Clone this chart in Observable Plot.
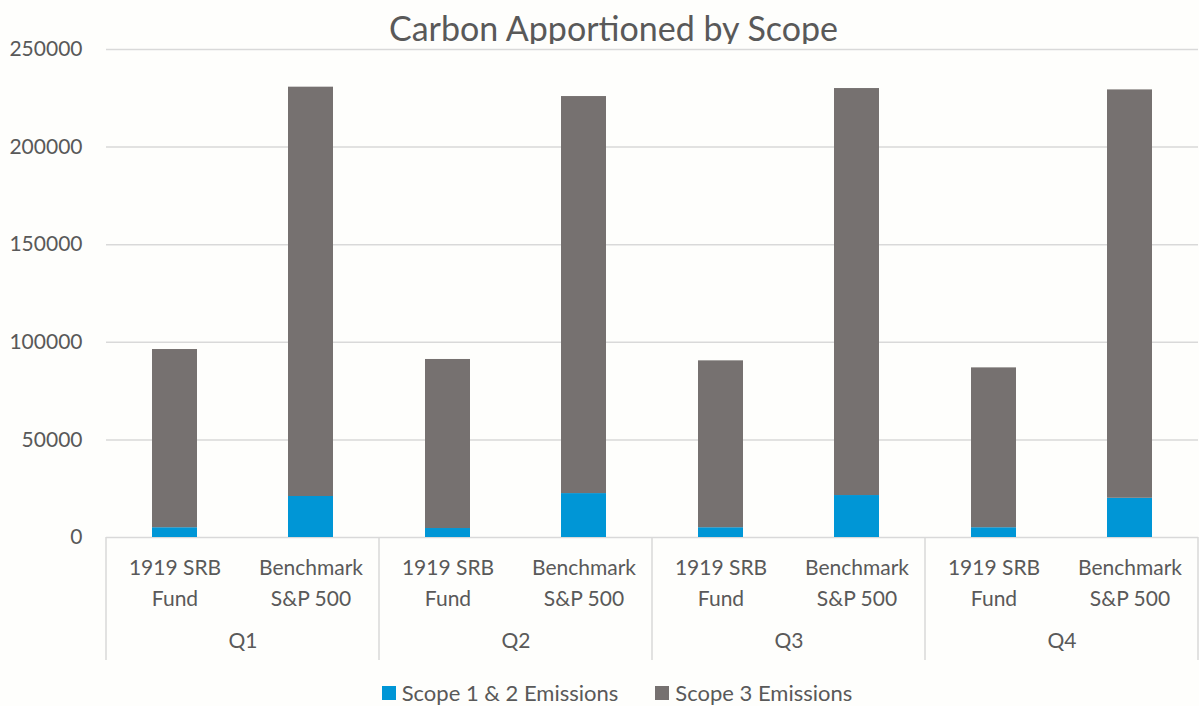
<!DOCTYPE html>
<html>
<head>
<meta charset="utf-8">
<script src="https://cdn.jsdelivr.net/npm/d3@7"></script>
<script src="https://cdn.jsdelivr.net/npm/@observablehq/plot@0.6"></script>
<style>
  html, body { margin: 0; padding: 0; background: #fefefc; }
  body { width: 1199px; height: 706px; position: relative; overflow: hidden; font-family: Lato, "Open Sans", sans-serif; color: #595959; }
  #title { position: absolute; left: 28px; top: 6px; width: 1171px; text-align: center; font-size: 34px; line-height: 44px; }
  #chart { position: absolute; left: 0; top: 44px; }
  #legend { position: absolute; left: 0; top: 680px; width: 1199px; display: flex; justify-content: center; gap: 37px; font-size: 22px; line-height: 26px; padding-left: 35px; box-sizing: border-box; }
  .item { display: flex; align-items: center; gap: 6px; }
  .sw { width: 14px; height: 14px; display: inline-block; }
</style>
</head>
<body>
<div id="title">Carbon Apportioned by Scope</div>
<div id="chart"></div>
<div id="legend"></div>
<script>
const quarters = ["Q1", "Q2", "Q3", "Q4"];
const funds = ["1919 SRB Fund", "Benchmark S&P 500"];
const fundLabels = ["1919 SRB\nFund", "Benchmark\nS&P 500"];
const scopes = ["Scope 1 & 2 Emissions", "Scope 3 Emissions"];
const colors = ["#0096d6", "#767170"];
// values per quarter
const fundScope12 = [5000, 4600, 5000, 5000];
const fundScope3 = [91300, 86600, 85500, 81900];
const benchScope12 = [21000, 22500, 21500, 20100];
const benchScope3 = [209700, 203400, 208500, 209200];
const yTicks = [0, 50000, 100000, 150000, 200000, 250000];

const rows = [];
quarters.forEach((q, i) => {
  rows.push({quarter: q, fund: funds[0], scope: scopes[0], value: fundScope12[i]});
  rows.push({quarter: q, fund: funds[0], scope: scopes[1], value: fundScope3[i]});
  rows.push({quarter: q, fund: funds[1], scope: scopes[0], value: benchScope12[i]});
  rows.push({quarter: q, fund: funds[1], scope: scopes[1], value: benchScope3[i]});
});

const W = 1199, H = 625, mL = 104, mR = 0, mT = 5, mB = 132;

const chart = Plot.plot({
  width: W, height: H,
  marginLeft: mL, marginRight: mR, marginTop: mT, marginBottom: mB,
  style: {fontFamily: "Lato, 'Open Sans', sans-serif", fontSize: "21px", color: "#595959", background: "#fefefc", overflow: "visible"},
  fx: {domain: quarters, padding: 0, label: null},
  x: {domain: funds, paddingInner: 0.67, paddingOuter: 0.335, label: null},
  y: {domain: [0, 250000], label: null},
  color: {domain: scopes, range: colors},
  marks: [
    Plot.gridY(yTicks, {stroke: "#d9d9d9", strokeOpacity: 1, strokeWidth: 1.5}),
    Plot.barY(rows, {fx: "quarter", x: "fund", y: "value", fill: "scope"}),
    Plot.axisY(yTicks, {tickSize: 0, tickPadding: 24, tickFormat: d => String(d), label: null, fill: "#595959"}),
    Plot.axisX({tickSize: 0, tickPadding: 16, tickFormat: d => fundLabels[funds.indexOf(d)], lineHeight: 1.45, label: null, fill: "#595959"}),
    Plot.axisFx({anchor: "bottom", tickSize: 0, tickPadding: 96, label: null, fill: "#595959"})
  ]
});
document.getElementById("chart").appendChild(chart);

// category separators below the baseline, positioned from the fx scale
const fx = chart.scale("fx");
const y0 = H - mB;
const edges = quarters.map(q => fx.apply(q)).concat([fx.apply(quarters[quarters.length - 1]) + fx.step]);
const svg = d3.select(chart);
svg.append("g").attr("stroke", "#d9d9d9").attr("stroke-width", 1.5)
  .selectAll("line").data(edges).join("line")
  .attr("x1", d => d).attr("x2", d => d).attr("y1", y0).attr("y2", y0 + 123);

const legend = document.getElementById("legend");
scopes.forEach((s, i) => {
  const item = document.createElement("div");
  item.className = "item";
  const sw = document.createElement("span");
  sw.className = "sw";
  sw.style.background = colors[i];
  const t = document.createElement("span");
  t.textContent = s;
  item.appendChild(sw); item.appendChild(t);
  legend.appendChild(item);
});
</script>
</body>
</html>
